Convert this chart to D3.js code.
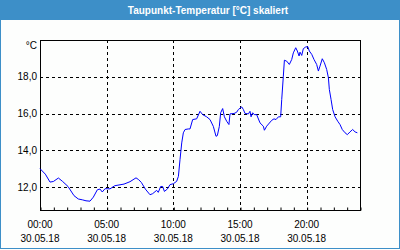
<!DOCTYPE html>
<html>
<head>
<meta charset="utf-8">
<script src="https://cdn.jsdelivr.net/npm/d3@7"></script>
<style>
  html, body { margin: 0; padding: 0; background: #fdfefd; }
  svg { display: block; }
  text { font-family: "Liberation Sans", Arial, sans-serif; }
</style>
</head>
<body>
<div id="chart"></div>
<script>
// Stunden seit 30.05.18 00:00 und Taupunkt in °C
const hours = [
    0, 0.4, 0.75, 1.0, 1.38, 1.7, 2.1, 2.55, 2.87, 3.2, 3.45, 3.75, 4.0, 4.3, 4.5, 4.67, 4.88,
    5.25, 5.6, 6.3, 6.75, 7.2, 7.4, 7.6, 7.9, 8.25, 8.45, 8.75, 8.87, 9.05, 9.2, 9.33, 9.55, 9.75,
    10.0, 10.25, 10.38, 10.5, 10.63, 10.75, 10.88, 11.12, 11.25, 11.45, 11.75, 12.0, 12.2, 12.5,
    12.75, 13.0, 13.2, 13.3, 13.45, 13.55, 13.7, 13.83, 14.0, 14.17, 14.25, 14.55, 14.75, 14.88,
    15.13, 15.25, 15.38, 15.63, 15.75, 15.83, 15.95, 16.07, 16.25, 16.5, 16.75, 16.83, 17.0,
    17.38, 17.55, 17.7, 17.88, 18.05, 18.13, 18.25, 18.33, 18.5, 18.7, 18.88, 19.0, 19.18, 19.3,
    19.43, 19.5, 19.63, 19.75, 19.93, 20.08, 20.2, 20.38, 20.55, 20.75, 20.88, 21.0, 21.17, 21.33,
    21.5, 21.63, 21.7, 21.83, 21.95, 22.13, 22.33, 22.5, 22.67, 22.88, 23.05, 23.25, 23.45, 23.63, 23.8
];
const temps = [
    13.0, 12.7, 12.27, 12.3, 12.49, 12.3, 12.03, 11.53, 11.35, 11.3, 11.25, 11.23, 11.45, 11.85, 11.89, 11.73, 11.91,
    11.9, 12.07, 12.16, 12.29, 12.5, 12.4, 12.25, 11.89, 11.58, 11.64, 11.82, 11.71, 12.03, 12.03, 11.76, 11.89, 12.13,
    12.18, 12.31, 12.58, 13.49, 14.4, 14.95, 15.13, 15.16, 15.16, 15.67, 15.71, 16.12, 15.94, 15.82,
    15.67, 15.3, 14.76, 14.8, 15.3, 16.04, 16.27, 15.82, 15.58, 15.4, 15.98, 16.0, 16.07, 16.22,
    16.36, 16.22, 16.0, 15.98, 16.12, 15.82, 16.04, 15.94, 15.94, 15.49, 15.31, 15.09, 15.31,
    15.63, 15.71, 15.67, 15.82, 15.82, 16.76, 18.03, 18.9, 18.85, 18.67, 18.94, 19.3, 19.58, 19.4,
    19.13, 19.34, 19.16, 19.53, 19.62, 19.64, 19.4, 19.22, 18.94, 18.67, 18.31, 18.58, 18.98, 18.76,
    18.4, 17.95, 17.31, 16.76, 16.22, 15.82, 15.58, 15.4, 15.13, 14.95, 14.85, 15.0, 15.13, 15.0, 14.95
];
const yTicks = [12, 14, 16, 18];
const xLabelHours = [0, 5, 10, 15, 20];
const title = 'Taupunkt-Temperatur [°C] skaliert';
const unit = '°C';

const width = 400;
const height = 250;
const plotLeft = 40, plotRight = 360, plotTop = 40, plotBottom = 210;

const start = new Date(2018, 4, 30, 0, 0);
const toDate = h => new Date(start.getTime() + h * 3600 * 1000);
const data = hours.map((h, i) => ({date: toDate(h), t: temps[i]}));

const timeFmt = d3.timeFormat('%H:%M');
const dayFmt = d3.timeFormat('%d.%m.%y');
const numFmt = v => d3.format('.1f')(v).replace('.', ',');

const xScale = d3.scaleTime()
    .domain([start, toDate(24)])
    .range([plotLeft, plotRight]);

const yScale = d3.scaleLinear()
    .domain([10.75, 20])
    .range([plotBottom, plotTop]);

const px = v => Math.round(v) + 0.5;

const svg = d3.select('#chart')
    .append('svg')
    .attr('width', width)
    .attr('height', height);

// Rahmen und Titelleiste
svg.append('rect')
    .attr('x', 0.5).attr('y', 0.5)
    .attr('width', 399).attr('height', 248)
    .attr('fill', '#fdfefd')
    .attr('stroke', '#3d8fc8');

svg.append('rect')
    .attr('x', 0).attr('y', 0)
    .attr('width', width).attr('height', 20)
    .attr('fill', '#3d8fc8');

svg.append('text')
    .attr('x', 208).attr('y', 13.5)
    .attr('text-anchor', 'middle')
    .attr('fill', '#fff')
    .attr('font-size', 10)
    .attr('font-weight', 'bold')
    .text(title);

// Gitter
svg.selectAll('.hgrid')
    .data(yTicks)
    .enter()
    .append('line')
    .attr('x1', plotLeft).attr('x2', plotRight)
    .attr('y1', d => px(yScale(d))).attr('y2', d => px(yScale(d)))
    .attr('stroke', '#000')
    .attr('stroke-dasharray', '3,3');

svg.selectAll('.vgrid')
    .data(xLabelHours.filter(h => h > 0))
    .enter()
    .append('line')
    .attr('x1', d => px(xScale(toDate(d)))).attr('x2', d => px(xScale(toDate(d))))
    .attr('y1', plotTop).attr('y2', plotBottom)
    .attr('stroke', '#000')
    .attr('stroke-dasharray', '3,3');

// Stundenstriche
const xAxis = d3.axisBottom(xScale)
    .ticks(d3.timeHour.every(1))
    .tickSize(-3)
    .tickFormat('');
const gx = svg.append('g')
    .attr('transform', `translate(0.5,${plotBottom + 0.5})`)
    .call(xAxis);
gx.select('.domain').remove();
gx.selectAll('line').attr('stroke', '#000');

// Plotrahmen
svg.append('rect')
    .attr('x', plotLeft + 0.5).attr('y', plotTop + 0.5)
    .attr('width', plotRight - plotLeft).attr('height', plotBottom - plotTop)
    .attr('fill', 'none')
    .attr('stroke', '#000');

// Beschriftung
svg.selectAll('.ylab')
    .data(yTicks)
    .enter()
    .append('text')
    .attr('x', 37)
    .attr('y', d => yScale(d) + 3.5)
    .attr('text-anchor', 'end')
    .attr('font-size', 10)
    .attr('fill', '#000')
    .text(d => numFmt(d));

svg.append('text')
    .attr('x', 37).attr('y', 48.5)
    .attr('text-anchor', 'end')
    .attr('font-size', 10)
    .text(unit);

svg.selectAll('.xlab1')
    .data(xLabelHours)
    .enter()
    .append('text')
    .attr('x', d => xScale(toDate(d)))
    .attr('y', 227.5)
    .attr('text-anchor', 'middle')
    .attr('font-size', 10)
    .text(d => timeFmt(toDate(d)));

svg.selectAll('.xlab2')
    .data(xLabelHours)
    .enter()
    .append('text')
    .attr('x', d => xScale(toDate(d)))
    .attr('y', 242)
    .attr('text-anchor', 'middle')
    .attr('font-size', 10)
    .text(d => dayFmt(toDate(d)));

// Messkurve
const line = d3.line()
    .x(d => xScale(d.date))
    .y(d => yScale(d.t));

svg.append('path')
    .datum(data)
    .attr('d', line)
    .attr('fill', 'none')
    .attr('stroke', '#0000ff')
    .attr('stroke-width', 1);
</script>
</body>
</html>
